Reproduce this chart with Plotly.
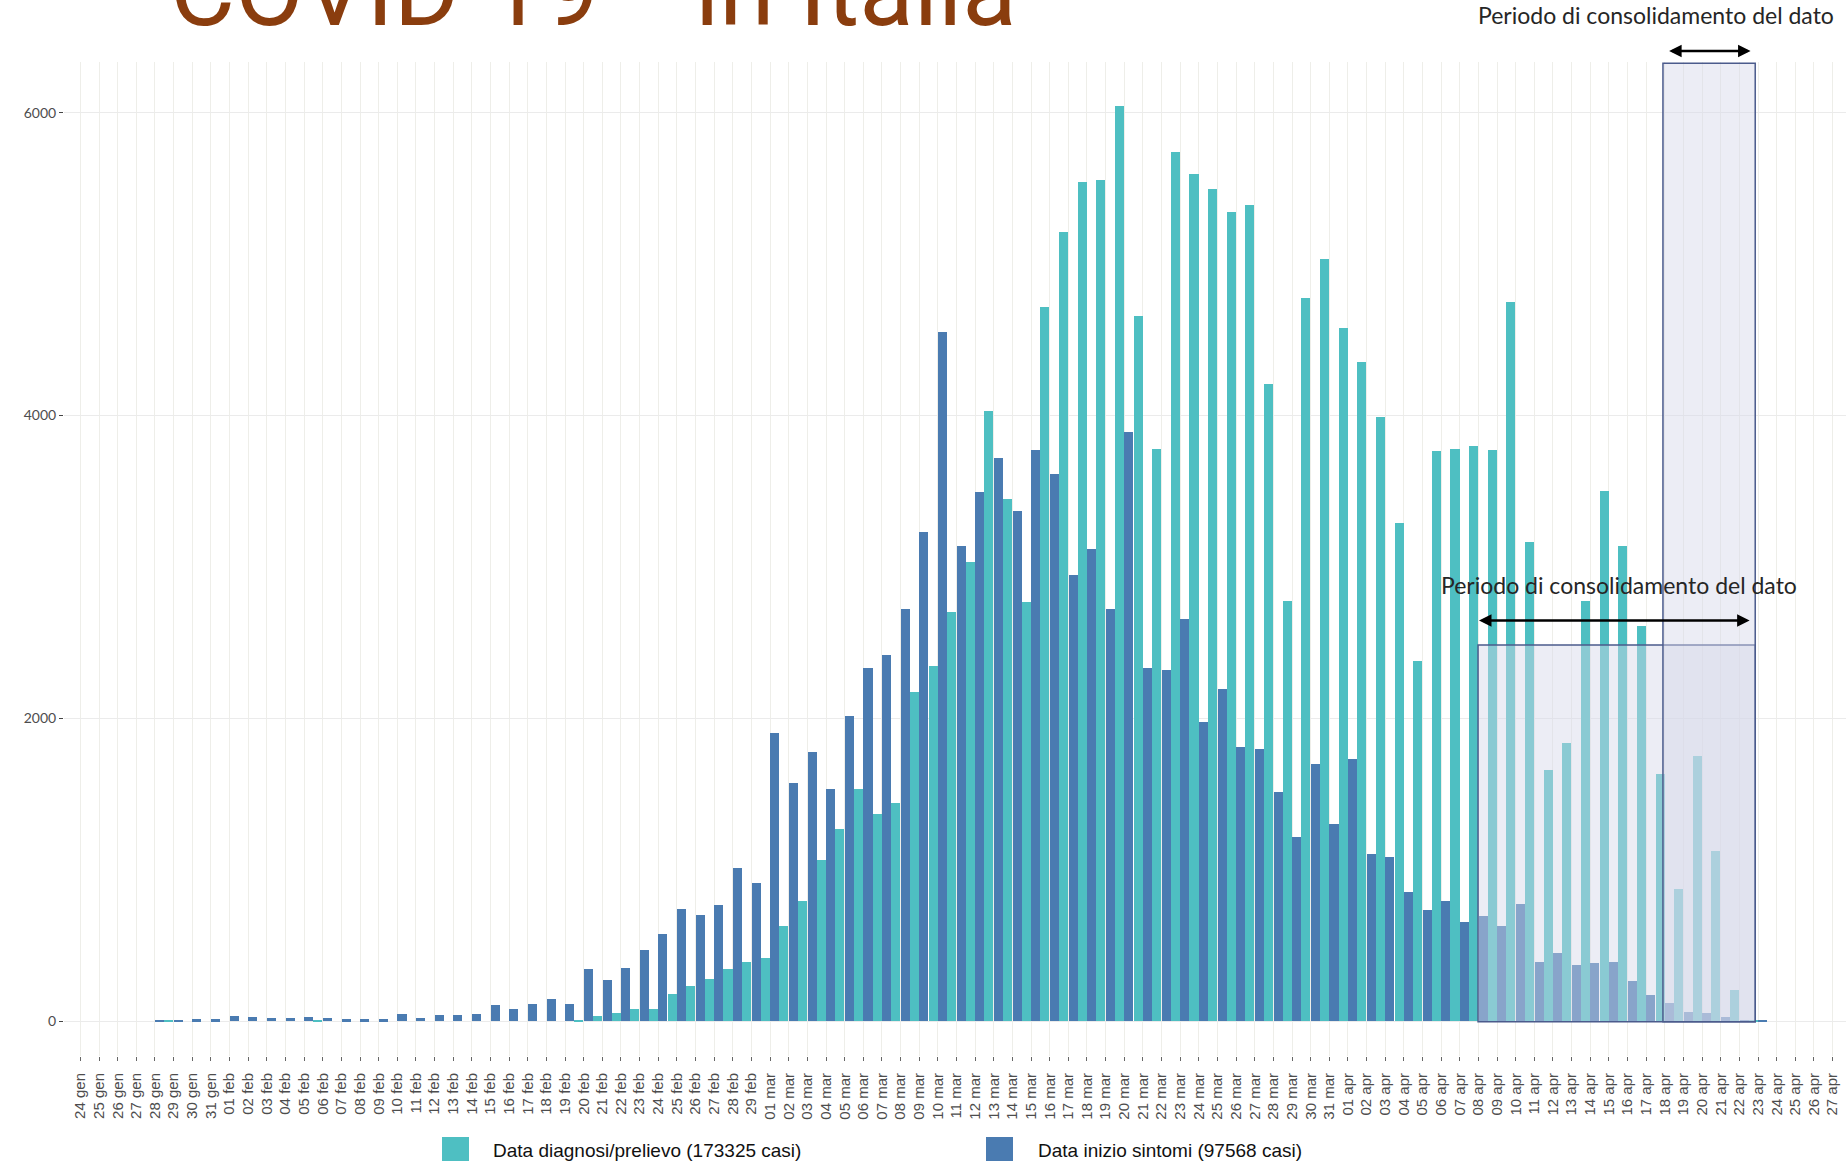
import plotly.graph_objects as go

# ---------------- data ----------------
date_labels = [
    "24 gen", "25 gen", "26 gen", "27 gen", "28 gen", "29 gen", "30 gen", "31 gen",
    "01 feb", "02 feb", "03 feb", "04 feb", "05 feb", "06 feb", "07 feb", "08 feb", "09 feb", "10 feb",
    "11 feb", "12 feb", "13 feb", "14 feb", "15 feb", "16 feb", "17 feb", "18 feb", "19 feb", "20 feb",
    "21 feb", "22 feb", "23 feb", "24 feb", "25 feb", "26 feb", "27 feb", "28 feb", "29 feb",
    "01 mar", "02 mar", "03 mar", "04 mar", "05 mar", "06 mar", "07 mar", "08 mar", "09 mar", "10 mar",
    "11 mar", "12 mar", "13 mar", "14 mar", "15 mar", "16 mar", "17 mar", "18 mar", "19 mar", "20 mar",
    "21 mar", "22 mar", "23 mar", "24 mar", "25 mar", "26 mar", "27 mar", "28 mar", "29 mar", "30 mar",
    "31 mar",
    "01 apr", "02 apr", "03 apr", "04 apr", "05 apr", "06 apr", "07 apr", "08 apr", "09 apr", "10 apr",
    "11 apr", "12 apr", "13 apr", "14 apr", "15 apr", "16 apr", "17 apr", "18 apr", "19 apr", "20 apr",
    "21 apr", "22 apr", "23 apr", "24 apr", "25 apr", "26 apr", "27 apr",
]

# Data inizio sintomi (blue)
sintomi = [
    0, 0, 0, 0, 5, 3, 13, 13,
    33, 26, 20, 20, 26, 20, 13, 13, 13, 48,
    20, 37, 37, 48, 106, 77, 112, 148, 115, 346,
    273, 348, 471, 575, 742, 701, 767, 1013, 910,
    1905, 1573, 1775, 1533, 2013, 2334, 2417, 2719, 3231, 4552,
    3136, 3494, 3720, 3370, 3772, 3617, 2944, 3116, 2722, 3891,
    2332, 2316, 2654, 1978, 2196, 1810, 1795, 1516, 1218, 1698,
    1301,
    1731, 1102, 1082, 852, 732, 796, 657, 695, 627, 773,
    391, 447, 367, 385, 390, 266, 174, 117, 57, 51,
    29, 4, 2, 0, 0, 0, 0,
]

# Data diagnosi/prelievo (teal)
diagnosi = [
    0, 0, 0, 0, 3, 0, 0, 0,
    0, 0, 0, 0, 2, 0, 0, 0, 0, 0,
    0, 0, 0, 0, 0, 0, 0, 0, 5, 35,
    50, 77, 79, 178, 231, 278, 346, 388, 416,
    626, 795, 1062, 1271, 1533, 1366, 1442, 2175, 2348, 2702,
    3036, 4031, 3446, 2769, 4719, 5212, 5543, 5555, 6044, 4659,
    3776, 5742, 5598, 5499, 5344, 5392, 4206, 2777, 4775, 5037,
    4580,
    4353, 3991, 3291, 2379, 3768, 3776, 3800, 3772, 4748, 3164,
    1658, 1836, 2772, 3502, 3140, 2610, 1634, 870, 1749, 1121,
    205, 3, 0, 0, 0, 0, 0,
]

y_ticks = [0, 2000, 4000, 6000]
name_diagnosi = "Data diagnosi/prelievo (173325 casi)"
name_sintomi = "Data inizio sintomi (97568 casi)"
note_text = "Periodo di consolidamento del dato"

TEAL = "#4EBFC2"
BLUE = "#4A7BB1"
RECT_FILL = "rgba(212,216,232,0.45)"
RECT_LINE = "#4B5B8C"

W, H = 1846, 1164
ML, MR, MT, MB = 64, 0, 62, 108
YMIN, YMAX = -231, 6336
XMIN, XMAX = -0.88, 94.72


def px_x(px):
    return (px - ML) / (W - ML - MR)


def px_y(py):
    return (H - MB - py) / (H - MT - MB)


fig = go.Figure()
fig.add_trace(go.Bar(
    x=date_labels, y=sintomi, name=name_sintomi,
    offset=0.01, width=0.485,
    marker=dict(color=BLUE, line=dict(width=0)), showlegend=False,
))
fig.add_trace(go.Bar(
    x=date_labels, y=diagnosi, name=name_diagnosi,
    offset=0.5, width=0.485,
    marker=dict(color=TEAL, line=dict(width=0)), showlegend=False,
))

# consolidation boxes
fig.add_shape(type="rect", xref="x", yref="y", x0=74.98, x1=89.85, y0=-4, y1=2484,
              fillcolor=RECT_FILL, line=dict(color=RECT_LINE, width=1.5), layer="above")
fig.add_shape(type="rect", xref="x", yref="y", x0=84.9, x1=89.85, y0=-4, y1=6328,
              fillcolor=RECT_FILL, line=dict(color=RECT_LINE, width=1.5), layer="above")

annotations = []
# double arrows
annotations.append(dict(x=89.55, y=2647, ax=74.95, ay=2647, xref="x", yref="y", axref="x", ayref="y",
                        text="", showarrow=True, arrowhead=2, startarrowhead=2, arrowside="end+start",
                        arrowwidth=2.5, arrowsize=1.0, startarrowsize=1.0, arrowcolor="black",
                        standoff=0, startstandoff=0))
annotations.append(dict(x=89.6, y=px_y(51), ax=85.15, ay=0, xref="x", yref="paper", axref="x", ayref="pixel",
                        text="", showarrow=True, arrowhead=2, startarrowhead=2, arrowside="end+start",
                        arrowwidth=2.5, arrowsize=1.0, startarrowsize=1.0, arrowcolor="black",
                        standoff=0, startstandoff=0))
note_font = dict(family="Lato", size=23, color="#262626")
annotations.append(dict(x=82.54, y=2881, xref="x", yref="y", text=note_text, showarrow=False,
                        xanchor="center", yanchor="middle", font=note_font))
annotations.append(dict(x=px_x(1656), y=px_y(15), xref="paper", yref="paper", text=note_text,
                        showarrow=False, xanchor="center", yanchor="middle", font=note_font))

# title (clipped at the top of the page)
TITLE_COLOR = "#8A3D0E"
title_font = dict(family="Liberation Sans Narrow, Roboto, Noto Sans", size=100, color=TITLE_COLOR)
annotations.append(dict(x=px_x(168), y=px_y(51), xref="paper", yref="paper", text="COVID-19",
                        showarrow=False, xanchor="left", yanchor="bottom", font=title_font))
annotations.append(dict(x=px_x(693), y=px_y(51), xref="paper", yref="paper", text="in Italia",
                        showarrow=False, xanchor="left", yanchor="bottom", font=title_font))

# manual legend
legend_font = dict(family="Liberation Sans, Arial", size=19, color="#111111")
fig.add_shape(type="rect", xref="paper", yref="paper", x0=px_x(442), x1=px_x(469),
              y0=px_y(1161), y1=px_y(1137), fillcolor=TEAL, line=dict(width=0))
fig.add_shape(type="rect", xref="paper", yref="paper", x0=px_x(986), x1=px_x(1013),
              y0=px_y(1161), y1=px_y(1137), fillcolor=BLUE, line=dict(width=0))
annotations.append(dict(x=px_x(491), y=px_y(1150), xref="paper", yref="paper", text=name_diagnosi,
                        showarrow=False, xanchor="left", yanchor="middle", font=legend_font))
annotations.append(dict(x=px_x(1036), y=px_y(1150), xref="paper", yref="paper", text=name_sintomi,
                        showarrow=False, xanchor="left", yanchor="middle", font=legend_font))

fig.update_layout(
    width=W, height=H,
    margin=dict(l=ML, r=MR, t=MT, b=MB, pad=0),
    paper_bgcolor="white", plot_bgcolor="white",
    barmode="overlay", bargap=0,
    showlegend=False,
    annotations=annotations,
    xaxis=dict(
        type="category", range=[XMIN, XMAX],
        tickmode="array", tickvals=date_labels, ticktext=date_labels,
        tickangle=-90, tickfont=dict(family="Liberation Sans, Arial", size=15, color="#4D4D4D"),
        showgrid=True, gridcolor="#EEEEE9", gridwidth=1,
        ticks="outside", ticklen=4, tickcolor="#666666", tickwidth=1,
        ticklabelstandoff=6,
        showline=False, zeroline=False, fixedrange=True,
    ),
    yaxis=dict(
        range=[YMIN, YMAX], tickvals=y_ticks, ticktext=[str(v) for v in y_ticks],
        tickfont=dict(family="Lato", size=14, color="#4D4D4D"),
        showgrid=True, gridcolor="#EBEBEB", gridwidth=1,
        ticks="outside", ticklen=4, tickcolor="#444444", tickwidth=1,
        showline=False, zeroline=False, fixedrange=True,
    ),
)

fig.write_html("out.html", config={"displayModeBar": False},
               post_script="document.body.style.margin='0';document.body.style.overflow='hidden';")
